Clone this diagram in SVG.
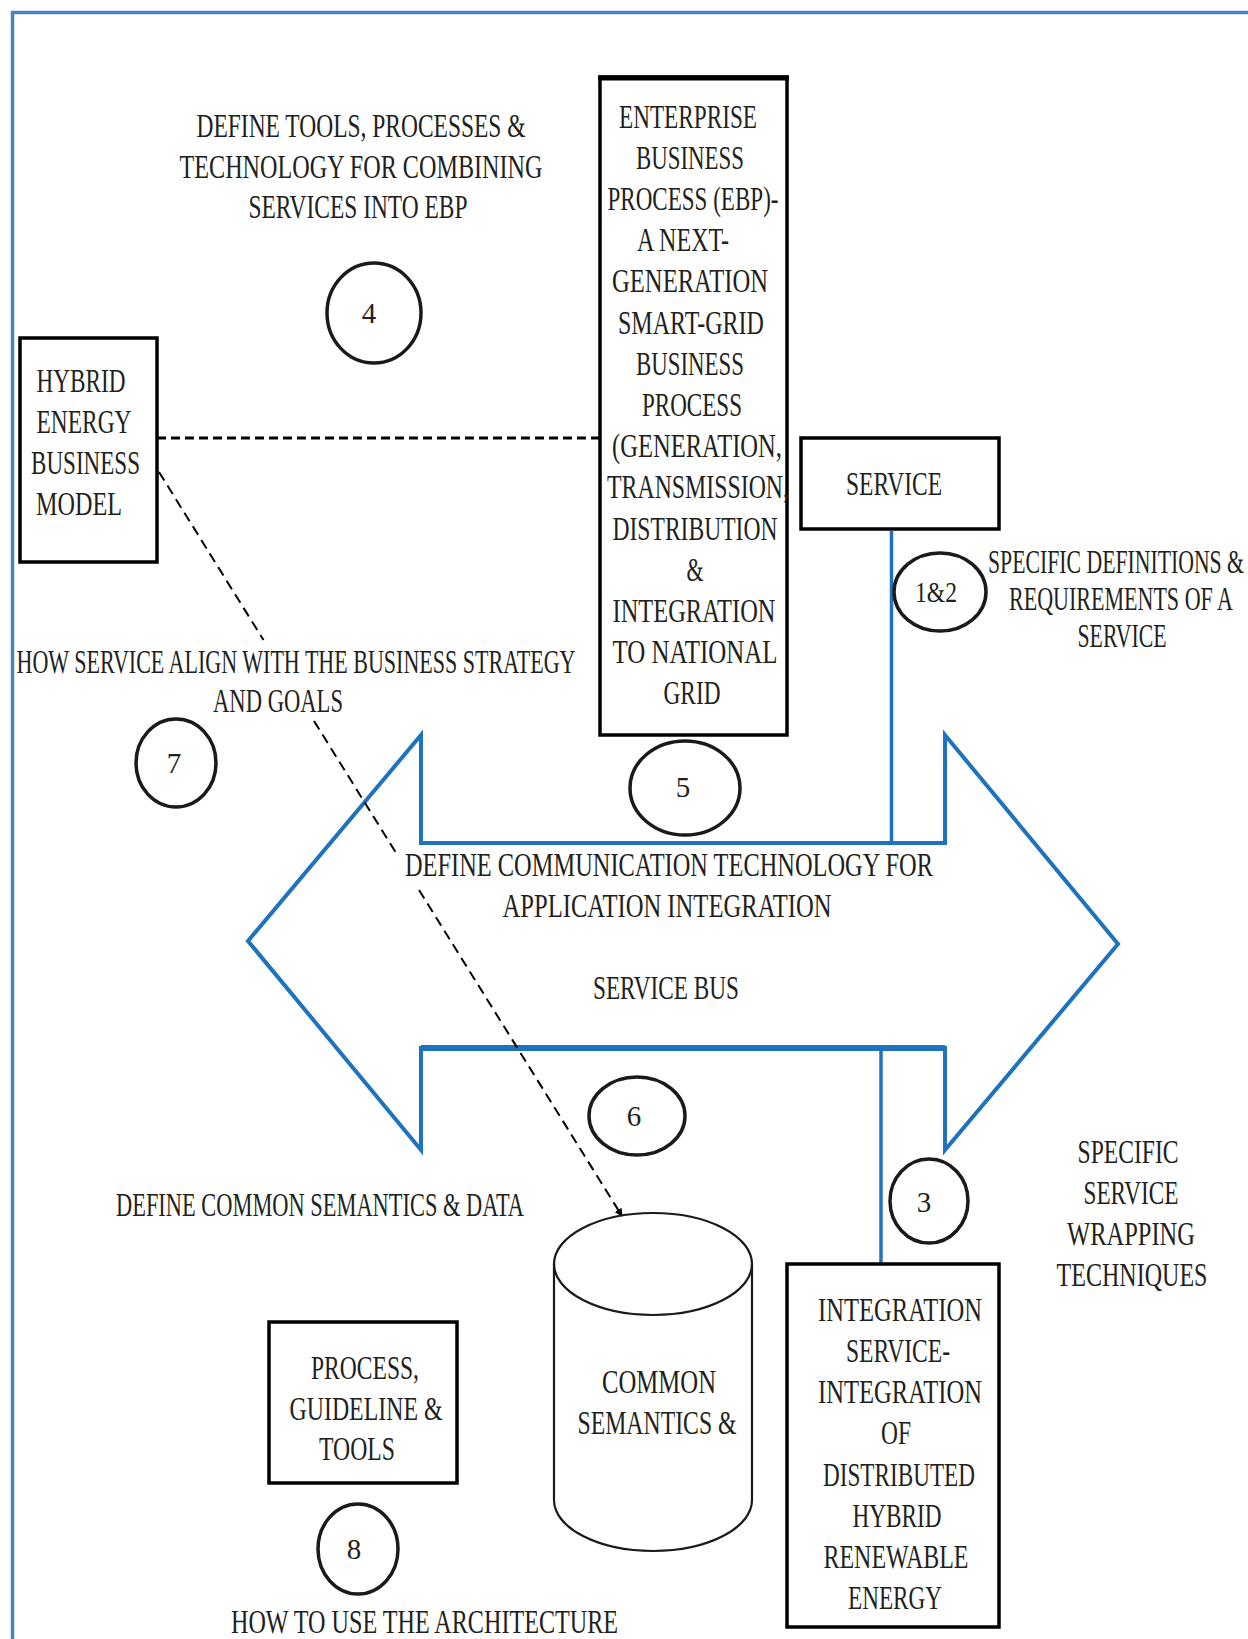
<svg xmlns="http://www.w3.org/2000/svg" width="1248" height="1639" viewBox="0 0 1248 1639">
<defs>
<style>
.t{font-family:"Liberation Serif","Times New Roman",serif;font-size:34px;fill:#231f20;text-anchor:middle}
.n{font-family:"Liberation Serif","Times New Roman",serif;font-size:29px;fill:#231f20;text-anchor:middle}
.box{fill:#fff;stroke:#000;stroke-width:3.5}
.circ{fill:none;stroke:#1a1a1a;stroke-width:3.5}
.blue{fill:none;stroke:#1f73be;stroke-width:4}
</style>
<marker id="ah" viewBox="0 0 10 10" refX="9" refY="5" markerWidth="4" markerHeight="4" orient="auto">
<path d="M0,0 L10,5 L0,10 z" fill="#000"/>
</marker>
</defs>
<rect width="1248" height="1639" fill="#fff"/>
<g id="frame">
<line x1="11" y1="12.5" x2="1248" y2="12.5" stroke="#4f81bd" stroke-width="3.5"/>
<line x1="12.5" y1="11" x2="12.5" y2="1639" stroke="#4f81bd" stroke-width="3.5"/>
</g>

<g id="service-bus">
<polygon class="blue" points="421,735 421,843 945,843 945,735 1118,944 945,1150 945,1048 421,1048 421,1150 248,941"/>
<line x1="421" y1="1048" x2="945" y2="1048" stroke="#1f73be" stroke-width="6"/>
<text class="t" x="669" y="876" textLength="528" lengthAdjust="spacingAndGlyphs">DEFINE COMMUNICATION TECHNOLOGY FOR</text>
<text class="t" x="667" y="917" textLength="329" lengthAdjust="spacingAndGlyphs">APPLICATION INTEGRATION</text>
<text class="t" x="666" y="999" textLength="146" lengthAdjust="spacingAndGlyphs">SERVICE BUS</text>
</g>

<g id="connectors">
<line x1="157" y1="438" x2="600" y2="438" stroke="#000" stroke-width="3" stroke-dasharray="9 5"/>
<line x1="159" y1="472" x2="263.5" y2="640" stroke="#000" stroke-width="2" stroke-dasharray="10 6"/>
<line x1="314" y1="721" x2="395.5" y2="852" stroke="#000" stroke-width="2" stroke-dasharray="10 6"/>
<line x1="419" y1="890" x2="622" y2="1216" stroke="#000" stroke-width="2" stroke-dasharray="10 6" marker-end="url(#ah)"/>
<line x1="891.5" y1="531" x2="891.5" y2="843" stroke="#1f73be" stroke-width="3.5"/>
<line x1="881" y1="1048" x2="881" y2="1264" stroke="#1f73be" stroke-width="3.5"/>
</g>

<g id="label-4">
<text class="t" x="361" y="137" textLength="329" lengthAdjust="spacingAndGlyphs">DEFINE TOOLS, PROCESSES &amp;</text>
<text class="t" x="361" y="178" textLength="363" lengthAdjust="spacingAndGlyphs">TECHNOLOGY FOR COMBINING</text>
<text class="t" x="358" y="218" textLength="219" lengthAdjust="spacingAndGlyphs">SERVICES INTO EBP</text>
<ellipse class="circ" cx="374" cy="313" rx="47" ry="50"/>
<text class="n" x="369" y="323">4</text>
</g>

<g id="hybrid-model">
<rect class="box" x="20" y="338" width="137" height="224"/>
<text class="t" x="81" y="392" textLength="89" lengthAdjust="spacingAndGlyphs">HYBRID</text>
<text class="t" x="84" y="433" textLength="95" lengthAdjust="spacingAndGlyphs">ENERGY</text>
<text class="t" x="85.5" y="473.5" textLength="109" lengthAdjust="spacingAndGlyphs">BUSINESS</text>
<text class="t" x="79" y="515" textLength="86" lengthAdjust="spacingAndGlyphs">MODEL</text>
</g>

<g id="ebp">
<rect class="box" x="600" y="77" width="187" height="658"/>
<line x1="598" y1="78" x2="789" y2="78" stroke="#000" stroke-width="5"/>
<text class="t" x="688" y="127.5" textLength="138" lengthAdjust="spacingAndGlyphs">ENTERPRISE</text>
<text class="t" x="690" y="168.7" textLength="108" lengthAdjust="spacingAndGlyphs">BUSINESS</text>
<text class="t" x="693" y="209.9" textLength="171" lengthAdjust="spacingAndGlyphs">PROCESS (EBP)-</text>
<text class="t" x="683" y="251.1" textLength="92" lengthAdjust="spacingAndGlyphs">A NEXT-</text>
<text class="t" x="690" y="292.3" textLength="156" lengthAdjust="spacingAndGlyphs">GENERATION</text>
<text class="t" x="691" y="333.5" textLength="146" lengthAdjust="spacingAndGlyphs">SMART-GRID</text>
<text class="t" x="690" y="374.7" textLength="108" lengthAdjust="spacingAndGlyphs">BUSINESS</text>
<text class="t" x="692" y="415.9" textLength="100" lengthAdjust="spacingAndGlyphs">PROCESS</text>
<text class="t" x="697" y="457.1" textLength="170" lengthAdjust="spacingAndGlyphs">(GENERATION,</text>
<text class="t" x="698" y="498.3" textLength="182" lengthAdjust="spacingAndGlyphs">TRANSMISSION,</text>
<text class="t" x="695" y="539.5" textLength="165" lengthAdjust="spacingAndGlyphs">DISTRIBUTION</text>
<text class="t" x="695" y="580.7" textLength="17" lengthAdjust="spacingAndGlyphs">&amp;</text>
<text class="t" x="694" y="621.9" textLength="163" lengthAdjust="spacingAndGlyphs">INTEGRATION</text>
<text class="t" x="695" y="663.1" textLength="165" lengthAdjust="spacingAndGlyphs">TO NATIONAL</text>
<text class="t" x="692" y="704.3" textLength="57" lengthAdjust="spacingAndGlyphs">GRID</text>
</g>

<g id="label-5">
<ellipse class="circ" cx="685" cy="788" rx="55" ry="47"/>
<text class="n" x="683" y="797">5</text>
</g>

<g id="service">
<rect class="box" x="801" y="438" width="198" height="91"/>
<text class="t" x="894" y="495" textLength="96" lengthAdjust="spacingAndGlyphs">SERVICE</text>
</g>

<g id="label-1-2">
<ellipse class="circ" cx="940" cy="592" rx="46" ry="39"/>
<text class="n" x="936" y="602" textLength="42" lengthAdjust="spacingAndGlyphs">1&amp;2</text>
<text class="t" x="1116" y="573" textLength="256" lengthAdjust="spacingAndGlyphs">SPECIFIC DEFINITIONS &amp;</text>
<text class="t" x="1121" y="610" textLength="224" lengthAdjust="spacingAndGlyphs">REQUIREMENTS OF A</text>
<text class="t" x="1122" y="647" textLength="89" lengthAdjust="spacingAndGlyphs">SERVICE</text>
</g>

<g id="label-7">
<text class="t" x="296" y="673" textLength="559" lengthAdjust="spacingAndGlyphs">HOW SERVICE ALIGN WITH THE BUSINESS STRATEGY</text>
<text class="t" x="278" y="712" textLength="130" lengthAdjust="spacingAndGlyphs">AND GOALS</text>
<ellipse class="circ" cx="176" cy="763" rx="40" ry="44"/>
<text class="n" x="174" y="773">7</text>
</g>

<g id="label-6">
<ellipse class="circ" cx="637" cy="1116" rx="48" ry="39"/>
<text class="n" x="634" y="1126">6</text>
<text class="t" x="320" y="1215.5" textLength="408" lengthAdjust="spacingAndGlyphs">DEFINE COMMON SEMANTICS &amp; DATA</text>
</g>

<g id="label-3">
<ellipse class="circ" cx="929" cy="1201" rx="39" ry="42"/>
<text class="n" x="924" y="1212">3</text>
<text class="t" x="1128" y="1163" textLength="101" lengthAdjust="spacingAndGlyphs">SPECIFIC</text>
<text class="t" x="1131" y="1204" textLength="95" lengthAdjust="spacingAndGlyphs">SERVICE</text>
<text class="t" x="1131" y="1245" textLength="128" lengthAdjust="spacingAndGlyphs">WRAPPING</text>
<text class="t" x="1132" y="1286" textLength="151" lengthAdjust="spacingAndGlyphs">TECHNIQUES</text>
</g>

<g id="common-semantics">
<path d="M554,1264 L554,1500 A99,51 0 0 0 752,1500 L752,1264" fill="none" stroke="#1a1a1a" stroke-width="2.2"/>
<ellipse cx="653" cy="1264" rx="99" ry="51" fill="none" stroke="#1a1a1a" stroke-width="2.2"/>
<text class="t" x="659" y="1393" textLength="114" lengthAdjust="spacingAndGlyphs">COMMON</text>
<text class="t" x="657" y="1434" textLength="159" lengthAdjust="spacingAndGlyphs">SEMANTICS &amp;</text>
</g>

<g id="integration-service">
<rect class="box" x="787" y="1264" width="212" height="363"/>
<text class="t" x="900" y="1321" textLength="164" lengthAdjust="spacingAndGlyphs">INTEGRATION</text>
<text class="t" x="898" y="1362" textLength="104" lengthAdjust="spacingAndGlyphs">SERVICE-</text>
<text class="t" x="900" y="1403" textLength="164" lengthAdjust="spacingAndGlyphs">INTEGRATION</text>
<text class="t" x="896" y="1444" textLength="30" lengthAdjust="spacingAndGlyphs">OF</text>
<text class="t" x="899" y="1486" textLength="152" lengthAdjust="spacingAndGlyphs">DISTRIBUTED</text>
<text class="t" x="897" y="1527" textLength="89" lengthAdjust="spacingAndGlyphs">HYBRID</text>
<text class="t" x="896" y="1568" textLength="145" lengthAdjust="spacingAndGlyphs">RENEWABLE</text>
<text class="t" x="895" y="1609" textLength="94" lengthAdjust="spacingAndGlyphs">ENERGY</text>
</g>

<g id="process-guideline">
<rect class="box" x="269" y="1322" width="188" height="161"/>
<text class="t" x="365" y="1379" textLength="108" lengthAdjust="spacingAndGlyphs">PROCESS,</text>
<text class="t" x="366" y="1420" textLength="153" lengthAdjust="spacingAndGlyphs">GUIDELINE &amp;</text>
<text class="t" x="357" y="1460" textLength="76" lengthAdjust="spacingAndGlyphs">TOOLS</text>
</g>

<g id="label-8">
<ellipse class="circ" cx="358" cy="1549" rx="40" ry="45"/>
<text class="n" x="354" y="1559">8</text>
<text class="t" x="424.5" y="1633" textLength="387" lengthAdjust="spacingAndGlyphs">HOW TO USE THE ARCHITECTURE</text>
</g>
</svg>
